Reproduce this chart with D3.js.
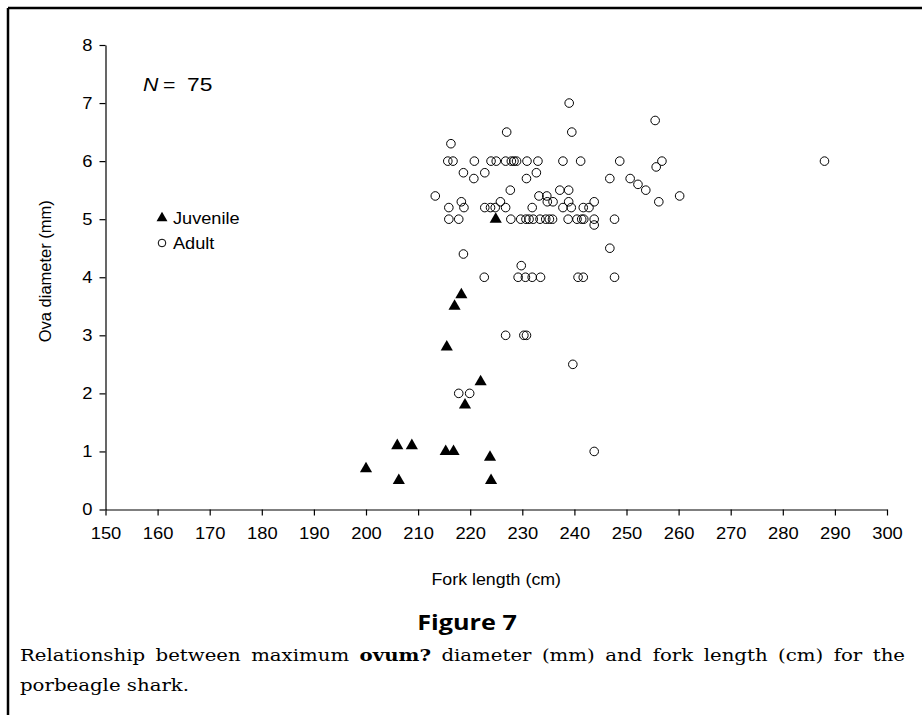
<!DOCTYPE html>
<html>
<head>
<meta charset="utf-8">
<script src="https://cdn.jsdelivr.net/npm/d3@7/dist/d3.min.js"></script>
<style>
  html, body { margin: 0; padding: 0; background: #fff; }
  svg { display: block; }
</style>
</head>
<body>
<svg id="chart" width="922" height="715"></svg>
<script>
// ---- data ----
const xTicks = [150,160,170,180,190,200,210,220,230,240,250,260,270,280,290,300];
const yTicks = [0,1,2,3,4,5,6,7,8];

const juvenileX = [200, 206.3, 206, 208.8, 215.3, 216.8, 217, 218.3, 219, 222, 223.8, 224, 224.9, 215.5];
const juvenileY = [0.7, 0.5, 1.1, 1.1, 1.0, 1.0, 3.5, 3.7, 1.8, 2.2, 0.9, 0.5, 5.0, 2.8];

const adultX = [
  239, 227, 239.5, 255.5, 216.3,
  215.7, 216.7, 220.8, 224.0, 225.0, 226.8, 227.9, 228.4, 228.9, 230.9, 233.0, 237.8, 241.2, 248.7, 256.8, 288.0,
  255.7, 218.7, 222.8, 232.7, 220.7, 230.8, 246.8, 250.7, 252.2, 253.7, 227.7, 237.2, 238.9,
  213.3, 233.2, 234.7, 260.2,
  218.3, 225.8, 234.8, 235.9, 238.9, 243.8, 256.2,
  215.9, 218.8, 222.8, 223.9, 224.8, 226.8, 231.9, 237.8, 239.4, 241.7, 242.8,
  215.9, 217.8, 227.8, 229.7, 230.7, 231.3, 232.1, 233.4, 234.5, 235.2, 235.8, 238.8, 240.5, 241.4, 241.8, 243.8, 247.7,
  243.8, 246.8, 218.7, 229.8,
  222.7, 229.2, 230.6, 231.9, 233.5, 240.7, 241.7, 247.7,
  226.8, 230.3, 230.8, 239.7, 217.8, 219.9, 243.8
];
const adultY = [
  7.0, 6.5, 6.5, 6.7, 6.3,
  6.0, 6.0, 6.0, 6.0, 6.0, 6.0, 6.0, 6.0, 6.0, 6.0, 6.0, 6.0, 6.0, 6.0, 6.0, 6.0,
  5.9, 5.8, 5.8, 5.8, 5.7, 5.7, 5.7, 5.7, 5.6, 5.5, 5.5, 5.5, 5.5,
  5.4, 5.4, 5.4, 5.4,
  5.3, 5.3, 5.3, 5.3, 5.3, 5.3, 5.3,
  5.2, 5.2, 5.2, 5.2, 5.2, 5.2, 5.2, 5.2, 5.2, 5.2, 5.2,
  5.0, 5.0, 5.0, 5.0, 5.0, 5.0, 5.0, 5.0, 5.0, 5.0, 5.0, 5.0, 5.0, 5.0, 5.0, 5.0, 5.0,
  4.9, 4.5, 4.4, 4.2,
  4.0, 4.0, 4.0, 4.0, 4.0, 4.0, 4.0, 4.0,
  3.0, 3.0, 3.0, 2.5, 2.0, 2.0, 1.0
];

const seriesNames = ["Juvenile", "Adult"];
const sampleSymbol = "N";
const sampleValue = "75";

// ---- layout ----
const svg = d3.select("#chart");
const sans = "'Liberation Sans', Arial, sans-serif";
const serif = "'DejaVu Serif', 'Liberation Serif', serif";
const SX = 1.08; // horizontal stretch of the original figure's lettering

const x = d3.scaleLinear().domain([150, 300]).range([105.5, 887]);
const y = d3.scaleLinear().domain([0, 8]).range([509.5, 45]);

// helper: stretched text
function stext(px, py, str, opts = {}) {
  const g = svg.append("g").attr("transform", `translate(${px},${py}) scale(${opts.sx || SX},1)`);
  const t = g.append("text").attr("x", 0).attr("y", 0)
    .attr("text-anchor", opts.anchor || "start")
    .style("font-family", opts.family || sans)
    .style("font-size", (opts.size || 17) + "px");
  if (opts.weight) t.style("font-weight", opts.weight);
  if (opts.italic) t.style("font-style", "italic");
  if (str !== null) t.text(str);
  return t;
}

// frame
svg.append("line").attr("x1", 8).attr("x2", 922).attr("y1", 8).attr("y2", 8)
  .attr("stroke", "#000").attr("stroke-width", 2.5);
svg.append("line").attr("x1", 8).attr("x2", 8).attr("y1", 8).attr("y2", 715)
  .attr("stroke", "#000").attr("stroke-width", 2.5);

// axes
const xAxis = d3.axisBottom(x).tickValues(xTicks).tickSize(6).tickSizeOuter(0).tickPadding(9);
const yAxis = d3.axisLeft(y).tickValues(yTicks).tickSize(6).tickSizeOuter(0).tickPadding(7);

const gx = svg.append("g").attr("transform", `translate(0,${y(0)})`).call(xAxis);
const gy = svg.append("g").attr("transform", `translate(${x(150)},0)`).call(yAxis);
[gx, gy].forEach(g => {
  g.selectAll("path.domain").attr("stroke", "#000").attr("stroke-width", 1.2);
  g.selectAll(".tick line").attr("stroke", "#000").attr("stroke-width", 1.2);
  g.selectAll(".tick text").attr("fill", "#000")
    .style("font-family", sans).style("font-size", "17px");
});
gx.selectAll(".tick text").attr("dy", "0.85em").attr("transform", `scale(${SX},1)`);
gy.selectAll(".tick text").attr("x", -13 / SX).attr("transform", `scale(${SX},1)`);

// axis titles
stext((x(150) + x(300)) / 2, 585, "Fork length (cm)", { anchor: "middle", size: 16.5 });
svg.append("text").attr("transform", `translate(51,${(y(0) + y(8)) / 2 - 6}) rotate(-90)`)
  .attr("text-anchor", "middle").style("font-family", sans).style("font-size", "16.5px")
  .text("Ova diameter (mm)");

// N = 75
stext(143, 91, sampleSymbol, { size: 19, italic: true, sx: 1.12 });
stext(163, 91, "=", { size: 19, sx: 1.12 });
stext(187, 91, sampleValue, { size: 19, sx: 1.2 });

// symbols
const tri = d3.symbol().type(d3.symbolTriangle).size(64);

// adults (circles)
svg.append("g").selectAll("circle").data(adultX.map((v, i) => [v, adultY[i]]))
  .join("circle")
  .attr("cx", d => x(d[0])).attr("cy", d => y(d[1])).attr("r", 4.3)
  .attr("fill", "none").attr("stroke", "#000").attr("stroke-width", 1);

// juveniles (triangles)
svg.append("g").selectAll("path").data(juvenileX.map((v, i) => [v, juvenileY[i]]))
  .join("path")
  .attr("d", tri)
  .attr("transform", d => `translate(${x(d[0])},${y(d[1])})`)
  .attr("fill", "#000");

// legend
svg.append("path").attr("d", d3.symbol().type(d3.symbolTriangle).size(52)).attr("transform", "translate(162,218)").attr("fill", "#000");
stext(173, 223.5, seriesNames[0], { size: 16.5, sx: 1.1 });
svg.append("circle").attr("cx", 162).attr("cy", 243).attr("r", 3.8)
  .attr("fill", "none").attr("stroke", "#000").attr("stroke-width", 1);
stext(173, 249, seriesNames[1], { size: 16.5, sx: 1.1 });

// figure caption
stext(467, 630, "Figure 7", { anchor: "middle", size: 21, weight: "bold",
  family: "'Open Sans', 'DejaVu Sans', sans-serif", sx: 1.2 });

const CSX = 1.16;
const cap1 = stext(20, 661, null, { size: 17, family: serif, sx: CSX });
cap1.append("tspan").text("Relationship between maximum ");
cap1.append("tspan").style("font-weight", "bold").text("ovum?");
cap1.append("tspan").text(" diameter (mm) and fork length (cm) for the");
// justify the first caption line by adjusting the word spaces
const natural = cap1.node().getComputedTextLength();
const spaces = 11;
cap1.style("word-spacing", ((885 / CSX - natural) / spaces) + "px");

stext(20, 691, "porbeagle shark.", { size: 17, family: serif, sx: CSX });
</script>
</body>
</html>
